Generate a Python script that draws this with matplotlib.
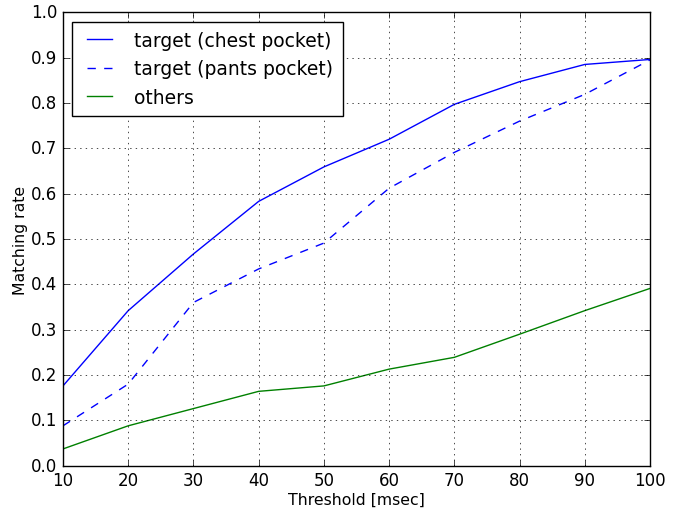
import matplotlib
matplotlib.use("Agg")
import matplotlib.pyplot as plt

plt.style.use("classic")

thresholds = [10, 20, 30, 40, 50, 60, 70, 80, 90, 100]
chest = [0.176, 0.342, 0.467, 0.583, 0.659, 0.720, 0.797, 0.847, 0.885, 0.896]
pants = [0.088, 0.180, 0.360, 0.434, 0.491, 0.612, 0.691, 0.760, 0.819, 0.895]
others = [0.037, 0.088, 0.126, 0.164, 0.176, 0.213, 0.239, 0.290, 0.342, 0.391]

fig = plt.figure(figsize=(6.78, 5.10), dpi=100)
ax = fig.add_axes([0.0929, 0.0849, 0.8658, 0.889])

ax.plot(thresholds, chest, "b-", label="target (chest pocket)")
ax.plot(thresholds, pants, "b--", label="target (pants pocket)")
ax.plot(thresholds, others, "g-", label="others")

ax.set_xlim(10, 100)
ax.set_ylim(0, 1.0)
ax.set_xticks(range(10, 101, 10))
ax.set_yticks([i / 10 for i in range(11)])
ax.grid(True)
ax.set_xlabel("Threshold [msec]", fontsize=11.3, labelpad=2)
ax.set_ylabel("Matching rate", fontsize=11.3, labelpad=2)
ax.legend(loc="upper left", fontsize=13.5, handlelength=1.9,
          handletextpad=0.9, borderpad=0.5)

fig.savefig("out.png", dpi=100)
